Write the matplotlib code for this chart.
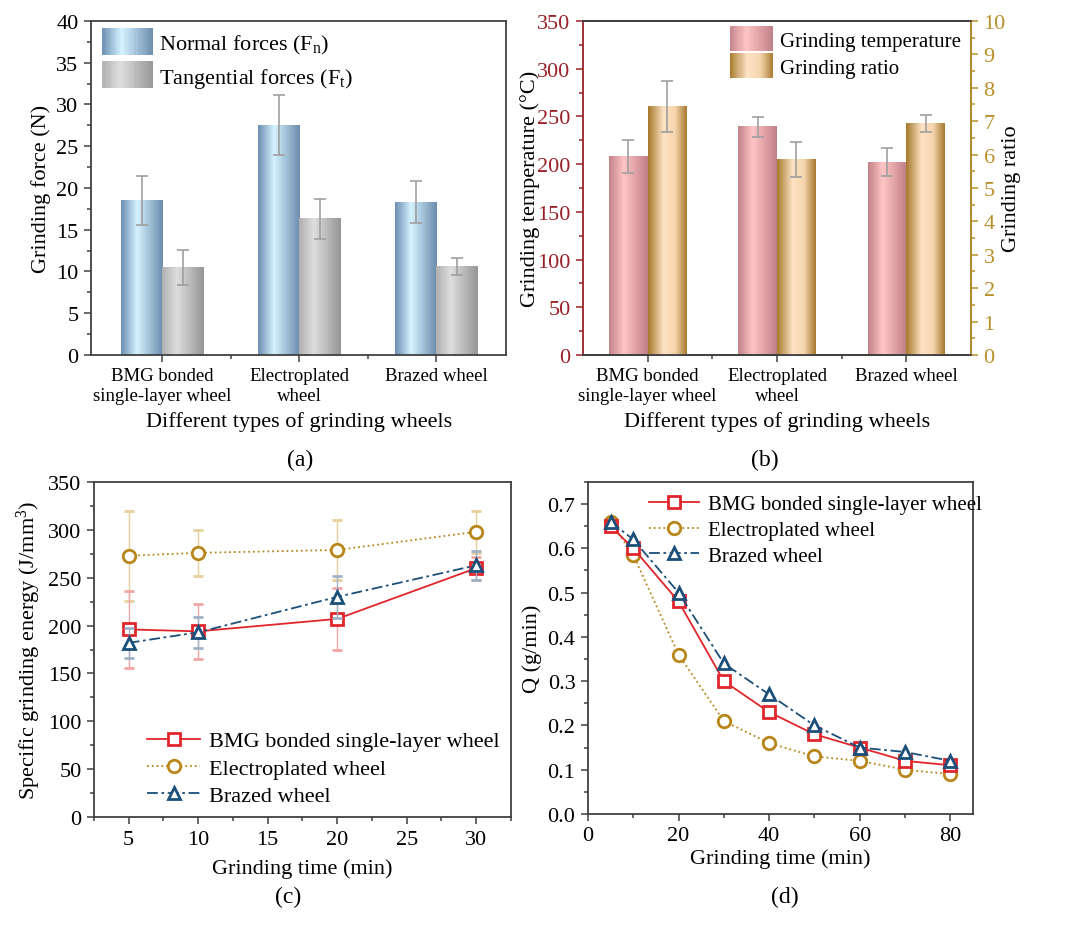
import numpy as np
import matplotlib
matplotlib.use('Agg')
import matplotlib.pyplot as plt
from matplotlib.colors import LinearSegmentedColormap
from matplotlib.patches import Rectangle
from matplotlib.lines import Line2D
from matplotlib.legend_handler import HandlerBase
from matplotlib.ticker import MultipleLocator, FormatStrFormatter

plt.rcParams['font.family'] = ['Liberation Serif', 'DejaVu Serif']
plt.rcParams['mathtext.fontset'] = 'custom'
plt.rcParams['mathtext.rm'] = 'Liberation Serif'
plt.rcParams['mathtext.it'] = 'Liberation Serif:italic'
plt.rcParams['font.size'] = 16

# ---- data ----
wheels = ['BMG bonded\nsingle-layer wheel', 'Electroplated\nwheel', 'Brazed wheel']

normal_force = [18.5, 27.5, 18.3]
normal_err = [2.9, 3.6, 2.5]
tangential_force = [10.5, 16.3, 10.6]
tangential_err = [2.1, 2.4, 1.0]

temperature = [208, 239, 202]
temperature_err = [17.5, 10.5, 14.5]
ratio = [7.43, 5.85, 6.93]
ratio_err = [0.76, 0.53, 0.26]

series_names = ['BMG bonded single-layer wheel', 'Electroplated wheel', 'Brazed wheel']

time_c = [5, 10, 20, 30]
energy_bmg = [196, 194, 207, 260]
energy_bmg_err = [40, 28.5, 32, 12]
energy_ep = [273, 276, 279, 298]
energy_ep_err = [47, 24, 31, 22]
energy_br = [182, 193, 230, 263]
energy_br_err = [15.5, 16.5, 22, 15]

time_d = [5, 10, 20, 30, 40, 50, 60, 70, 80]
q_bmg = [0.65, 0.60, 0.48, 0.30, 0.23, 0.18, 0.15, 0.12, 0.11]
q_ep = [0.66, 0.585, 0.36, 0.21, 0.16, 0.13, 0.12, 0.10, 0.09]
q_br = [0.66, 0.62, 0.50, 0.34, 0.27, 0.20, 0.15, 0.14, 0.12]

# ---- styles ----
cm_blue = LinearSegmentedColormap.from_list('b', [(0, '#6d90b2'), (0.38, '#d4f2ff'), (1, '#6c8dad')])
cm_gray = LinearSegmentedColormap.from_list('g', [(0, '#b0b0b0'), (0.35, '#dedede'), (1, '#969696')])
cm_pink = LinearSegmentedColormap.from_list('p', [(0, '#c3848b'), (0.38, '#ffc5c5'), (1, '#c07f87')])
cm_tan = LinearSegmentedColormap.from_list('t', [(0, '#a77a2e'), (0.4, '#fde2c4'), (0.7, '#f6d6ae'), (1, '#a77a2e')])

c_red, c_gold, c_blue = '#e0252b', '#b8861b', '#1b4f7a'
e_red, e_gold, e_blue = '#f3a5a5', '#e6cf9a', '#9fb3c8'
ls_red, ls_gold, ls_blue = '-', ':', (0, (6, 2, 1.5, 2))
spine_col = '#404040'
err_col = '#a0a0a0'

GRAD = np.linspace(0, 1, 64).reshape(1, -1)


def gradient_bars(ax, xs, heights, width, cmap, yerr):
    for x, h, e in zip(xs, heights, yerr):
        ax.imshow(GRAD, cmap=cmap, extent=[x - width / 2, x + width / 2, 0, h],
                  aspect='auto', zorder=2, interpolation='bilinear')
        ax.errorbar(x, h, yerr=e, fmt='none', ecolor=err_col, elinewidth=1.2,
                    capsize=4, capthick=1.2, zorder=3)


class HandlerGradient(HandlerBase):
    def __init__(self, cmap, n=40):
        super().__init__()
        self.cmap = cmap
        self.n = n

    def create_artists(self, legend, orig_handle, xdescent, ydescent, width, height, fontsize, trans):
        out = []
        for i in range(self.n):
            out.append(Rectangle((-xdescent + i * width / self.n, -ydescent - 3), width / self.n * 1.1,
                                 height + 6, facecolor=self.cmap((i + 0.5) / self.n),
                                 edgecolor='none', transform=trans))
        return out


def style_axes(ax):
    for s in ax.spines.values():
        s.set_color(spine_col)
        s.set_linewidth(1.3)
    ax.tick_params(which='both', direction='out', color=spine_col, width=1.1)
    ax.tick_params(which='major', length=5, pad=4)
    ax.tick_params(which='minor', length=3)
    ax.tick_params(top=False, right=False)


def line_handles():
    kw = dict(mfc='white', mew=2, ms=9, lw=1.3)
    return [Line2D([], [], color=c_red, ls=ls_red, marker='s', **kw),
            Line2D([], [], color=c_gold, ls=ls_gold, marker='o', **kw),
            Line2D([], [], color=c_blue, ls=ls_blue, marker='^', **kw)]


fig = plt.figure(figsize=(10.8, 9.28), dpi=100)

# ---- (a) ----
ax_a = fig.add_axes([0.0843, 0.6164, 0.3843, 0.3599])
pos = np.arange(1, 4)
w = 0.3
gradient_bars(ax_a, pos - w / 2, normal_force, w, cm_blue, normal_err)
gradient_bars(ax_a, pos + w / 2, tangential_force, w, cm_gray, tangential_err)
ax_a.set_xlim(0.48, 3.51)
ax_a.set_ylim(0, 40)
ax_a.set_xticks(pos)
ax_a.set_xticklabels(wheels, fontsize=13.5, linespacing=1.2)
ax_a.set_xticks([1.5, 2.5], minor=True)
ax_a.yaxis.set_major_locator(MultipleLocator(5))
ax_a.yaxis.set_minor_locator(MultipleLocator(2.5))
style_axes(ax_a)
ax_a.set_ylabel('Grinding force (N)', labelpad=4)
ax_a.set_xlabel('Different types of grinding wheels', labelpad=5)
h1 = Rectangle((0, 0), 1, 1)
h2 = Rectangle((0, 0), 1, 1)
ax_a.legend([h1, h2], ['Normal forces (F$_\\mathrm{n}$)', 'Tangential forces (F$_\\mathrm{t}$)'],
            handler_map={h1: HandlerGradient(cm_blue), h2: HandlerGradient(cm_gray)},
            loc='upper left', frameon=False, handlelength=2.3, handleheight=0.9,
            handletextpad=0.25, labelspacing=0.45, borderaxespad=0.1, fontsize=16)

# ---- (b) ----
ax_b = fig.add_axes([0.5398, 0.6164, 0.3593, 0.3599])
ax_b2 = ax_b.twinx()
gradient_bars(ax_b, pos - w / 2, temperature, w, cm_pink, temperature_err)
gradient_bars(ax_b2, pos + w / 2, ratio, w, cm_tan, ratio_err)
ax_b.set_xlim(0.5, 3.5)
ax_b.set_ylim(0, 350)
ax_b2.set_ylim(0, 10)
ax_b.set_xticks(pos)
ax_b.set_xticklabels(wheels, fontsize=13.5, linespacing=1.2)
ax_b.set_xticks([1.5, 2.5], minor=True)
ax_b.yaxis.set_major_locator(MultipleLocator(50))
ax_b.yaxis.set_minor_locator(MultipleLocator(25))
ax_b2.yaxis.set_major_locator(MultipleLocator(1))
ax_b2.yaxis.set_minor_locator(MultipleLocator(0.5))
style_axes(ax_b)
style_axes(ax_b2)
ax_b2.tick_params(right=True, left=False)
red_axis = '#9a2128'
gold_axis = '#b8902a'
ax_b.spines['left'].set_color(red_axis)
ax_b.tick_params(axis='y', which='both', colors=red_axis)
ax_b2.spines['left'].set_visible(False)
ax_b2.spines['right'].set_color(gold_axis)
ax_b2.tick_params(axis='y', which='both', colors=gold_axis)
ax_b.set_ylabel('Grinding temperature (°C)', labelpad=-2)
ax_b2.set_ylabel('Grinding ratio', labelpad=-3)
ax_b.set_xlabel('Different types of grinding wheels', labelpad=5)
h3 = Rectangle((0, 0), 1, 1)
h4 = Rectangle((0, 0), 1, 1)
ax_b2.legend([h3, h4], ['Grinding temperature', 'Grinding ratio'],
             handler_map={h3: HandlerGradient(cm_pink), h4: HandlerGradient(cm_tan)},
             loc='upper right', frameon=False, handlelength=2.1, handleheight=0.9,
             handletextpad=0.3, labelspacing=0.3, borderaxespad=0.1, fontsize=15,
             bbox_to_anchor=(1.0, 1.005))

# ---- (c) ----
ax_c = fig.add_axes([0.0870, 0.1185, 0.3861, 0.3610])
mk = dict(mfc='white', mew=2, ms=9, lw=1.3, capsize=3.5, elinewidth=1.0, capthick=1.0)
ax_c.errorbar(time_c, energy_ep, yerr=energy_ep_err, color=c_gold, ecolor=e_gold, ls=ls_gold,
              marker='o', zorder=3, **mk)
ax_c.errorbar(time_c, energy_bmg, yerr=energy_bmg_err, color=c_red, ecolor=e_red, ls=ls_red,
              marker='s', zorder=4, **mk)
ax_c.errorbar(time_c, energy_br, yerr=energy_br_err, color=c_blue, ecolor=e_blue, ls=ls_blue,
              marker='^', zorder=5, **mk)
ax_c.set_xlim(2.5, 32.5)
ax_c.set_ylim(0, 350)
ax_c.xaxis.set_major_locator(MultipleLocator(5))
ax_c.xaxis.set_minor_locator(MultipleLocator(2.5))
ax_c.yaxis.set_major_locator(MultipleLocator(50))
ax_c.yaxis.set_minor_locator(MultipleLocator(25))
style_axes(ax_c)
ax_c.set_xticks([5, 10, 15, 20, 25, 30])
ax_c.set_ylabel('Specific grinding energy (J/mm$^3$)', labelpad=4)
ax_c.set_xlabel('Grinding time (min)', labelpad=7)
ax_c.legend(line_handles(), series_names, loc='lower right', frameon=False,
            handlelength=2.4, handletextpad=0.4, labelspacing=0.3, borderaxespad=0.1, fontsize=16,
            bbox_to_anchor=(1.0, 0.0))

# ---- (d) ----
ax_d = fig.add_axes([0.5444, 0.1218, 0.3565, 0.3578])
md = dict(mfc='white', mew=2, ms=9, lw=1.3)
ax_d.plot(time_d, q_ep, color=c_gold, ls=ls_gold, marker='o', zorder=3, **md)
ax_d.plot(time_d, q_bmg, color=c_red, ls=ls_red, marker='s', zorder=4, **md)
ax_d.plot(time_d, q_br, color=c_blue, ls=ls_blue, marker='^', zorder=5, **md)
ax_d.set_xlim(0, 85)
ax_d.set_ylim(0, 0.75)
ax_d.xaxis.set_major_locator(MultipleLocator(20))
ax_d.xaxis.set_minor_locator(MultipleLocator(10))
ax_d.yaxis.set_major_locator(MultipleLocator(0.1))
ax_d.yaxis.set_minor_locator(MultipleLocator(0.05))
ax_d.yaxis.set_major_formatter(FormatStrFormatter('%.1f'))
style_axes(ax_d)
ax_d.set_ylabel('Q (g/min)', labelpad=4)
ax_d.set_xlabel('Grinding time (min)', labelpad=2)
ax_d.legend(line_handles(), series_names, loc='upper right', frameon=False,
            handlelength=2.4, handletextpad=0.4, labelspacing=0.3, borderaxespad=0.2,
            fontsize=15, bbox_to_anchor=(1.055, 1.0))

# panel labels
fig.text(0.278, 0.504, '(a)', ha='center', va='center', fontsize=17)
fig.text(0.708, 0.504, '(b)', ha='center', va='center', fontsize=17)
fig.text(0.267, 0.033, '(c)', ha='center', va='center', fontsize=17)
fig.text(0.727, 0.033, '(d)', ha='center', va='center', fontsize=17)

fig.savefig('out.png', dpi=100, facecolor='white')
